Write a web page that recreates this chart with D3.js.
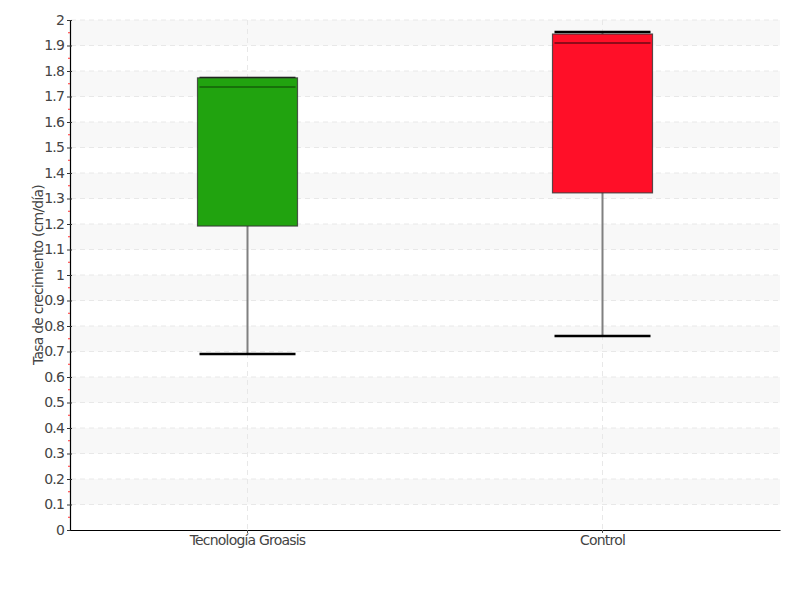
<!DOCTYPE html>
<html>
<head>
<meta charset="utf-8">
<script src="https://cdn.jsdelivr.net/npm/d3@7"></script>
<style>
body{margin:0;background:#fff;}
text{font-family:"DejaVu Sans",sans-serif;}
</style>
</head>
<body>
<svg id="chart" width="800" height="600"></svg>
<script>
const categories = ["Tecnología Groasis", "Control"];
const lowerWhisker = [0.69, 0.761];
const q1Values = [1.192, 1.322];
const medianValues = [1.737, 1.910];
const q3Values = [1.773, 1.945];
const upperWhisker = [1.773, 1.953];
const boxColors = ["#21a30f", "#ff0f28"];
const medianColors = ["#145f0a", "#6b0a14"];
const yTicks = d3.range(0, 21).map(i => +(i / 10).toFixed(1));
const yMinorTicks = d3.range(0, 20).map(i => +((i + 0.5) / 10).toFixed(2));
const yLabel = "Tasa de crecimiento (cm/día)";

const svg = d3.select("#chart");
const margin = {left: 70, right: 20, top: 20, bottom: 70};
const W = 800, H = 600;
const y = d3.scaleLinear().domain([0, 2]).range([H - margin.bottom, margin.top]);
const x = d3.scaleBand().domain(categories).range([margin.left, W - margin.right]);
const fmt = v => String(v);

// stripes
const stripes = svg.append("g");
for (let i = 1; i < 20; i += 2) {
  const lo = i / 10, hi = (i + 1) / 10;
  stripes.append("rect")
    .attr("x", margin.left + 1).attr("width", W - margin.right - margin.left - 1)
    .attr("y", y(hi)).attr("height", y(lo) - y(hi))
    .attr("fill", "#f8f8f8");
}
// horizontal grid
svg.append("g").selectAll("line").data(yTicks.filter(d => d > 0)).join("line")
  .attr("x1", margin.left + 1).attr("x2", W - margin.right)
  .attr("y1", d => y(d)).attr("y2", d => y(d))
  .attr("stroke", "#e8e8e8").attr("stroke-dasharray", "5,4");
// vertical grid
svg.append("g").selectAll("line").data(categories).join("line")
  .attr("x1", d => x(d) + x.bandwidth() / 2).attr("x2", d => x(d) + x.bandwidth() / 2)
  .attr("y1", margin.top).attr("y2", H - margin.bottom)
  .attr("stroke", "#e8e8e8").attr("stroke-dasharray", "5,4");

// boxes
const data = categories.map((c, i) => ({c, lw: lowerWhisker[i], q1: q1Values[i], med: medianValues[i], q3: q3Values[i], uw: upperWhisker[i], col: boxColors[i], mcol: medianColors[i]}));
const bw = 100;
const g = svg.append("g").selectAll("g").data(data).join("g");
const cx = d => x(d.c) + x.bandwidth() / 2;
g.append("line").attr("x1", cx).attr("x2", cx)
  .attr("y1", d => y(d.lw)).attr("y2", d => y(d.uw))
  .attr("stroke", "#808080").attr("stroke-width", 2);
g.append("line").attr("x1", d => cx(d) - 48).attr("x2", d => cx(d) + 48)
  .attr("y1", d => y(d.lw)).attr("y2", d => y(d.lw))
  .attr("stroke", "#000").attr("stroke-width", 2.5);
g.append("line").attr("x1", d => cx(d) - 48).attr("x2", d => cx(d) + 48)
  .attr("y1", d => y(d.uw)).attr("y2", d => y(d.uw))
  .attr("stroke", "#000").attr("stroke-width", 2.5);
g.append("rect").attr("x", d => cx(d) - bw / 2).attr("width", bw)
  .attr("y", d => y(d.q3)).attr("height", d => y(d.q1) - y(d.q3))
  .attr("fill", d => d.col).attr("stroke", "#333").attr("stroke-opacity", 0.8).attr("stroke-width", 1.2);
g.append("line").attr("x1", d => cx(d) - bw / 2 + 2).attr("x2", d => cx(d) + bw / 2 - 2)
  .attr("y1", d => y(d.med)).attr("y2", d => y(d.med))
  .attr("stroke", d => d.mcol).attr("stroke-width", 1.5);

// y axis
const yAxis = svg.append("g").attr("transform", `translate(${margin.left},0)`)
  .call(d3.axisLeft(y).tickValues(yTicks).tickFormat(fmt).tickSize(3).tickPadding(3));
yAxis.select(".domain").attr("stroke", "#000").attr("stroke-width", 1.2);
yAxis.selectAll(".tick line").attr("stroke", "#333").attr("x2", 2).attr("x1", -3);
yAxis.selectAll(".tick text").attr("fill", "#444").style("font-size", "14px").style("letter-spacing", "-0.8px");
svg.append("g").selectAll("line").data(yMinorTicks).join("line")
  .attr("x1", margin.left - 2).attr("x2", margin.left)
  .attr("y1", d => y(d)).attr("y2", d => y(d))
  .attr("stroke", "#ff3030");

// x axis
const xAxis = svg.append("g").attr("transform", `translate(0,${H - margin.bottom})`)
  .call(d3.axisBottom(x).tickSize(3).tickPadding(2).tickSizeOuter(0));
xAxis.select(".domain").attr("stroke", "#000").attr("stroke-width", 1.2);
xAxis.selectAll(".tick line").attr("stroke", "#555");
xAxis.selectAll(".tick text").attr("fill", "#444").style("font-size", "14px").style("letter-spacing", "-0.8px");

svg.append("text")
  .attr("transform", `translate(43,${(margin.top + H - margin.bottom) / 2}) rotate(-90)`)
  .attr("text-anchor", "middle").attr("fill", "#444").style("font-size", "14px").style("letter-spacing", "-0.8px")
  .text(yLabel);
</script>
</body>
</html>
